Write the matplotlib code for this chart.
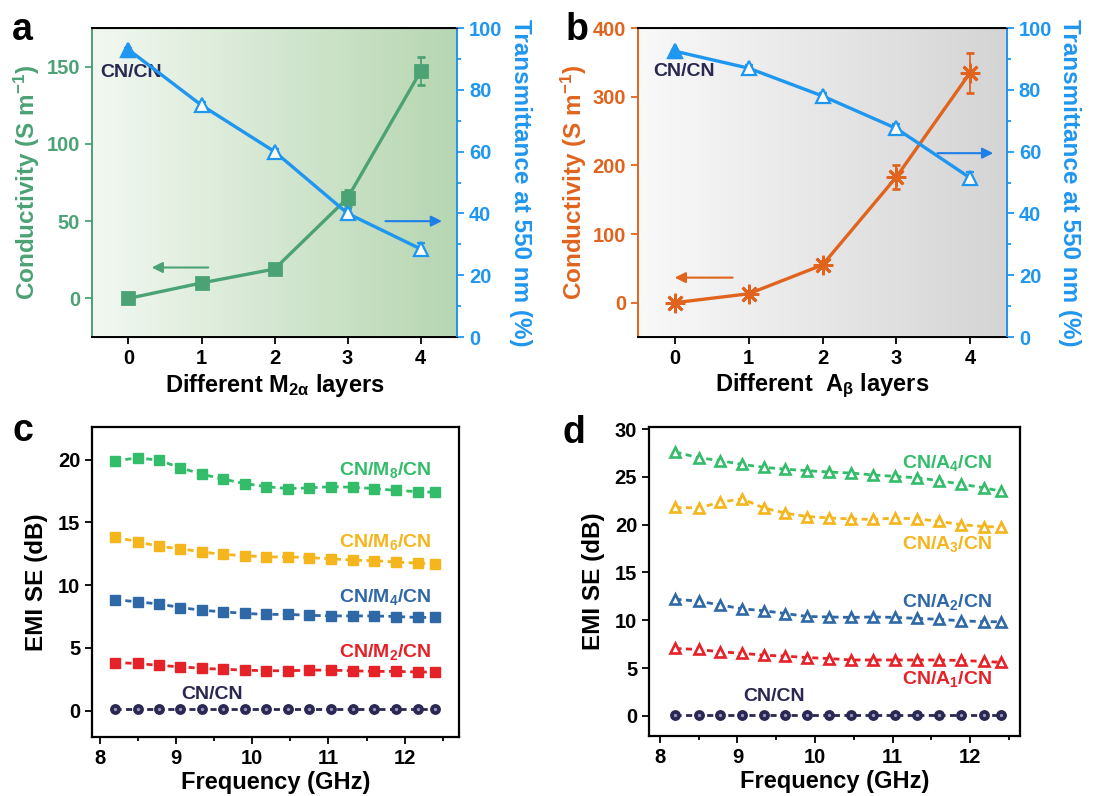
import numpy as np
import matplotlib
matplotlib.use("Agg")
import matplotlib.pyplot as plt
from matplotlib.colors import LinearSegmentedColormap
from matplotlib.ticker import MultipleLocator

plt.rcParams['font.family'] = ['Liberation Sans', 'DejaVu Sans']
plt.rcParams['font.weight'] = 'bold'
plt.rcParams['mathtext.fontset'] = 'custom'
for k in ('rm', 'it', 'bf', 'sf'):
    plt.rcParams['mathtext.' + k] = 'Liberation Sans:bold'
plt.rcParams['mathtext.default'] = 'rm'

# --- conductivity / transmittance vs number of layers ---
layers = [0, 1, 2, 3, 4]
cond_m = [0, 10, 19, 65, 147]
cond_m_err = [1, 1.5, 1.5, 5, 9]
trans_m = [93, 75, 60, 40, 28.5]
trans_m_err = [0.5, 1, 1, 1.5, 2]

cond_a = [0, 13, 55, 183, 335]
cond_a_err = [3, 4, 5, 17, 29]
trans_a = [92.5, 87, 78, 67.5, 51.5]
trans_a_err = [0.5, 1, 1, 1.5, 2]

# --- EMI SE spectra (X band) ---
freq = [8.2, 8.5, 8.78, 9.06, 9.34, 9.62, 9.9, 10.18, 10.47, 10.75,
        11.03, 11.32, 11.6, 11.88, 12.18, 12.4]

se_m8 = [19.9, 20.15, 19.95, 19.35, 18.85, 18.45, 18.1, 17.85, 17.7, 17.75,
         17.85, 17.8, 17.7, 17.55, 17.45, 17.4]
se_m6 = [13.85, 13.45, 13.1, 12.9, 12.65, 12.45, 12.35, 12.25, 12.25, 12.2,
         12.1, 12.0, 11.95, 11.85, 11.75, 11.7]
se_m4 = [8.85, 8.67, 8.5, 8.22, 8.0, 7.88, 7.75, 7.67, 7.67, 7.6,
         7.55, 7.55, 7.55, 7.5, 7.43, 7.43]
se_m2 = [3.82, 3.77, 3.6, 3.5, 3.37, 3.3, 3.23, 3.18, 3.18, 3.23,
         3.23, 3.18, 3.13, 3.13, 3.08, 3.08]
se_cn = [0.1, 0.1, 0.1, 0.1, 0.1, 0.1, 0.1, 0.1, 0.1, 0.1,
         0.1, 0.1, 0.1, 0.1, 0.1, 0.1]

se_a4 = [27.6, 27.0, 26.7, 26.3, 26.0, 25.8, 25.65, 25.5, 25.4, 25.2,
         25.05, 24.9, 24.6, 24.25, 23.85, 23.5]
se_a3 = [21.8, 21.75, 22.35, 22.7, 21.75, 21.2, 20.85, 20.7, 20.6, 20.55,
         20.7, 20.6, 20.35, 20.0, 19.8, 19.75]
se_a2 = [12.2, 12.0, 11.6, 11.2, 11.0, 10.7, 10.4, 10.35, 10.3, 10.35,
         10.3, 10.2, 10.1, 9.95, 9.85, 9.85]
se_a1 = [7.05, 6.95, 6.7, 6.55, 6.35, 6.25, 6.1, 6.0, 5.85, 5.85,
         5.85, 5.85, 5.85, 5.8, 5.7, 5.6]
se_cn_d = [0.05, 0.05, 0.05, 0.05, 0.05, 0.05, 0.05, 0.05, 0.05, 0.05,
           0.05, 0.05, 0.05, 0.05, 0.05, 0.05]

GREEN_A = '#4ba274'
ORANGE = '#e0641e'
TBLUE = '#1f96ef'
NAVY = '#2a2852'
C_GREEN = '#33bd6b'
C_YELLOW = '#f5b51c'
C_BLUE = '#2f68a6'
C_RED = '#e52228'

W, H = 1100, 796
fig = plt.figure(figsize=(W / 100, H / 100), dpi=100)

TICK_FS = 14.5
LABEL_FS = 17


def panel_letter(px, py, letter):
    # px, py: left / baseline position in pixels from the top-left corner
    fig.text(px / W, 1 - py / H, letter, fontsize=27, fontweight='bold',
             va='baseline', ha='left')


def gradient(ax, c0, c1):
    cmap = LinearSegmentedColormap.from_list('bg', [c0, c1])
    ax.imshow(np.linspace(0, 1, 256).reshape(1, -1), cmap=cmap, aspect='auto',
              extent=[0, 1, 0, 1], transform=ax.transAxes, zorder=0)


def layer_panel(rect, cond, cond_err, trans, trans_err, lcol, marker, ms,
                ylim, yticks, xlabel, bg, arrow_l, arrow_r, cn_pos):
    ax = fig.add_axes(rect)
    gradient(ax, *bg)
    ax.errorbar(layers, cond, yerr=cond_err, color=lcol, lw=2.4, marker=marker,
                ms=ms, mew=2, capsize=3, elinewidth=1.3, zorder=3)
    ax.set_xlim(-0.5, 4.5)
    ax.set_ylim(*ylim)
    ax.set_yticks(yticks)
    ax.set_xticks(layers)
    ax.set_xlabel(xlabel, fontsize=LABEL_FS, fontweight='bold', labelpad=3)
    ax.set_ylabel('Conductivity (S m$^{-1}$)', fontsize=LABEL_FS + 0.5,
                  fontweight='bold', color=lcol, labelpad=3)
    ax.tick_params(axis='y', colors=lcol, labelsize=TICK_FS, width=1.3, length=5)
    ax.tick_params(axis='x', labelsize=TICK_FS, width=1.3, length=5)
    ax.spines['left'].set_color(lcol)
    ax.spines['right'].set_visible(False)
    for s in ax.spines.values():
        s.set_linewidth(1.4)
    ax.annotate('', xy=(arrow_l[0], arrow_l[2]), xytext=(arrow_l[1], arrow_l[2]),
                arrowprops=dict(arrowstyle='-|>', color=lcol, lw=1.5,
                                mutation_scale=16), zorder=4)
    ax.text(cn_pos[0], cn_pos[1], 'CN/CN', color=NAVY, fontsize=14,
            fontweight='bold', zorder=5)

    ax2 = ax.twinx()
    ax2.errorbar(layers, trans, yerr=trans_err, color=TBLUE, lw=2.4, marker='^',
                 ms=10, mfc='white', mec=TBLUE, mew=1.6, capsize=3,
                 elinewidth=1.3, zorder=3)
    ax2.plot(layers[:1], trans[:1], ls='none', marker='^', ms=10, color=TBLUE,
             zorder=4)
    ax2.set_ylim(0, 100)
    ax2.set_yticks([0, 20, 40, 60, 80, 100])
    ax2.yaxis.set_minor_locator(MultipleLocator(10))
    ax2.set_ylabel('Transmittance at 550 nm (%)', fontsize=LABEL_FS + 0.5,
                   fontweight='bold', color=TBLUE, rotation=270, labelpad=21)
    ax2.tick_params(axis='y', which='both', colors=TBLUE, labelsize=TICK_FS,
                    width=1.3)
    ax2.tick_params(axis='y', which='major', length=5)
    ax2.tick_params(axis='y', which='minor', length=3)
    ax2.spines['left'].set_visible(False)
    ax2.spines['right'].set_color(TBLUE)
    ax2.spines['right'].set_linewidth(1.4)
    ax2.annotate('', xy=(arrow_r[1], arrow_r[2]), xytext=(arrow_r[0], arrow_r[2]),
                 arrowprops=dict(arrowstyle='-|>', color='#1f7fe8', lw=1.5,
                                 mutation_scale=16), zorder=4)
    return ax, ax2


layer_panel([0.0836, 0.5766, 0.332, 0.3882], cond_m, cond_m_err, trans_m,
            trans_m_err, GREEN_A, 's', 8, (-25, 175), [0, 50, 100, 150],
            r'Different M$_{2\alpha}$ layers', ('#f2f8f1', '#b6d6b1'),
            (0.28, 1.13, 20), (3.48, 4.33, 37.5), (-0.38, 143))

layer_panel([0.58, 0.5766, 0.3355, 0.3882], cond_a, cond_a_err, trans_a,
            trans_a_err, ORANGE, (8, 2, 0), 14, (-50, 400),
            [0, 100, 200, 300, 400], r'Different  A$_{\beta}$ layers',
            ('#f9f9f9', '#d4d4d4'), (-0.04, 0.82, 36.5), (3.52, 4.35, 59.5),
            (-0.3, 330))


def se_panel(rect, series, labels, xlim, ylim, yticks, cn_label, cn_y):
    ax = fig.add_axes(rect)
    for y, col, mk in series:
        if mk == 'o':
            ax.plot(freq, y, color=col, ls=(0, (2.2, 1.6)), lw=2, marker='o',
                    ms=6.8, mfc=col, mec=col, zorder=3)
            ax.plot(freq, y, ls='none', marker='o', ms=2.4, mfc='#9896bd',
                    mec='none', zorder=4)
        elif mk == 's':
            ax.plot(freq, y, color=col, ls=(0, (2.2, 1.6)), lw=2, marker='s',
                    ms=6.8, mfc=col, mec=col, zorder=3)
        else:
            ax.plot(freq, y, color=col, ls=(0, (2.2, 1.6)), lw=2, marker='^',
                    ms=7.6, mfc='white', mec=col, mew=1.9, zorder=3)
    for txt, x, y, col in labels:
        ax.text(x, y, txt, color=col, fontsize=14, fontweight='bold',
                ha='right', va='center', zorder=5)
    ax.text(9.47, cn_y, cn_label, color=NAVY, fontsize=14, fontweight='bold',
            ha='center', va='center', zorder=5)
    ax.set_xlim(*xlim)
    ax.set_ylim(*ylim)
    ax.set_yticks(yticks)
    ax.set_xticks([8, 9, 10, 11, 12])
    ax.xaxis.set_minor_locator(MultipleLocator(0.5))
    ax.set_xlabel('Frequency (GHz)', fontsize=LABEL_FS, fontweight='bold',
                  labelpad=2)
    ax.set_ylabel('EMI SE (dB)', fontsize=LABEL_FS + 0.5, fontweight='bold',
                  labelpad=7)
    ax.tick_params(which='both', labelsize=TICK_FS, width=1.3)
    ax.tick_params(which='major', length=5)
    ax.tick_params(which='minor', length=3)
    for s in ax.spines.values():
        s.set_linewidth(1.6)
    return ax


se_panel([0.0836, 0.0741, 0.3336, 0.3894],
         [(se_cn, NAVY, 'o'), (se_m2, C_RED, 's'), (se_m4, C_BLUE, 's'),
          (se_m6, C_YELLOW, 's'), (se_m8, C_GREEN, 's')],
         [('CN/M$_8$/CN', 12.35, 19.15, C_GREEN),
          ('CN/M$_6$/CN', 12.35, 13.45, C_YELLOW),
          ('CN/M$_4$/CN', 12.35, 9.07, C_BLUE),
          ('CN/M$_2$/CN', 12.35, 4.7, C_RED)],
         (7.9, 12.71), (-2.1, 22.6), [0, 5, 10, 15, 20], 'CN/CN', 1.25)

se_panel([0.59, 0.0754, 0.337, 0.388],
         [(se_cn_d, NAVY, 'o'), (se_a1, C_RED, '^'), (se_a2, C_BLUE, '^'),
          (se_a3, C_YELLOW, '^'), (se_a4, C_GREEN, '^')],
         [('CN/A$_4$/CN', 12.29, 26.5, C_GREEN),
          ('CN/A$_3$/CN', 12.29, 18.0, C_YELLOW),
          ('CN/A$_2$/CN', 12.29, 11.9, C_BLUE),
          ('CN/A$_1$/CN', 12.29, 3.9, C_RED)],
         (7.86, 12.64), (-2.1, 30.2), [0, 5, 10, 15, 20, 25, 30], 'CN/CN', 2.0)

panel_letter(12, 40, 'a')
panel_letter(566, 40, 'b')
panel_letter(12, 441, 'c')
panel_letter(562, 443, 'd')

fig.savefig('out.png', dpi=100)
